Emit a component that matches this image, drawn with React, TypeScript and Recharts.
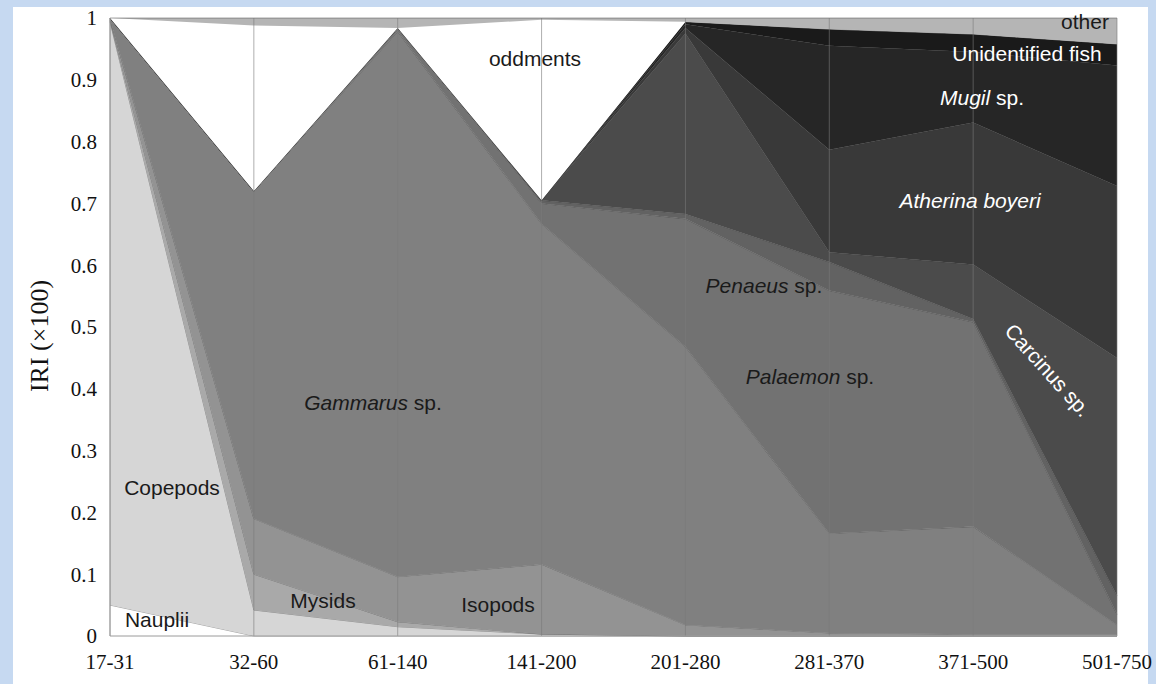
import React from "react";
import { AreaChart, Area, XAxis, YAxis, ReferenceLine } from "recharts";

// size classes (mm)
const sizeClasses = ["17-31", "32-60", "61-140", "141-200", "201-280", "281-370", "371-500", "501-750"];

// IRI share per prey group, stacked bottom to top
const nauplii = [0.05, 0, 0, 0, 0, 0, 0, 0];
const copepods = [0.944, 0.042, 0.015, 0.003, 0, 0, 0, 0];
const mysids = [0.002, 0.058, 0.008, 0, 0, 0, 0, 0];
const isopods = [0.002, 0.09, 0.073, 0.113, 0.018, 0.005, 0.003, 0.003];
const gammarus = [0.002, 0.53, 0.882, 0.551, 0.45, 0.161, 0.174, 0.015];
const palaemon = [0, 0, 0.006, 0.033, 0.207, 0.393, 0.331, 0.017];
const penaeus = [0, 0, 0, 0.005, 0.008, 0.046, 0.005, 0.03];
const carcinus = [0, 0, 0, 0, 0.292, 0.016, 0.088, 0.385];
const atherina = [0, 0, 0, 0, 0.009, 0.166, 0.23, 0.278];
const mugil = [0, 0, 0, 0, 0.006, 0.168, 0.114, 0.195];
const unidentifiedFish = [0, 0, 0, 0, 0.004, 0.027, 0.029, 0.035];
const oddments = [0, 0.268, 0, 0.292, 0, 0, 0, 0];
const other = [0, 0.012, 0.016, 0.003, 0.006, 0.018, 0.026, 0.042];

const yTicks = [0, 0.1, 0.2, 0.3, 0.4, 0.5, 0.6, 0.7, 0.8, 0.9, 1];

const series = [
  { key: "nauplii", values: nauplii, fill: "#ffffff" },
  { key: "copepods", values: copepods, fill: "#d6d6d6" },
  { key: "mysids", values: mysids, fill: "#a9a9a9" },
  { key: "isopods", values: isopods, fill: "#939393" },
  { key: "gammarus", values: gammarus, fill: "#808080" },
  { key: "palaemon", values: palaemon, fill: "#727272" },
  { key: "penaeus", values: penaeus, fill: "#626262" },
  { key: "carcinus", values: carcinus, fill: "#4b4b4b" },
  { key: "atherina", values: atherina, fill: "#393939" },
  { key: "mugil", values: mugil, fill: "#262626" },
  { key: "unidentified", values: unidentifiedFish, fill: "#1a1a1a" },
  { key: "oddments", values: oddments, fill: "#ffffff", stroke: "#ffffff" },
  { key: "other", values: other, fill: "#b5b5b5" },
];

const data = sizeClasses.map((range, i) => {
  const row: Record<string, string | number> = { range };
  series.forEach((s) => {
    row[s.key] = s.values[i];
  });
  return row;
});

type AreaLabel = {
  italic?: string;
  text: string;
  left: number;
  top: number;
  color: string;
  rotate?: number;
};

const areaLabels: AreaLabel[] = [
  { text: "Copepods", left: 172, top: 487, color: "#1a1a1a" },
  { text: "Nauplii", left: 157, top: 619, color: "#1a1a1a" },
  { text: "Mysids", left: 323, top: 600, color: "#1a1a1a" },
  { text: "Isopods", left: 498, top: 604, color: "#1a1a1a" },
  { italic: "Gammarus", text: " sp.", left: 373, top: 402, color: "#1a1a1a" },
  { text: "oddments", left: 535, top: 58, color: "#1a1a1a" },
  { italic: "Penaeus", text: " sp.", left: 764, top: 285, color: "#1a1a1a" },
  { italic: "Palaemon", text: " sp.", left: 810, top: 376, color: "#1a1a1a" },
  { text: "Carcinus sp.", left: 1048, top: 370, color: "#fff", rotate: 48 },
  { italic: "Atherina boyeri", text: "", left: 970, top: 200, color: "#fff" },
  { italic: "Mugil", text: " sp.", left: 982, top: 97, color: "#fff" },
  { text: "Unidentified fish", left: 1027, top: 53, color: "#fff" },
  { text: "other", left: 1085, top: 21, color: "#1a1a1a" },
];

const serif = '"Liberation Serif", "Times New Roman", serif';
const sans = '"Liberation Sans", Arial, Helvetica, sans-serif';

const YTitle = ({ viewBox }: any) => {
  const cx = viewBox.x - 11;
  const cy = viewBox.y + viewBox.height / 2 + 9;
  return (
    <text
      x={cx}
      y={cy}
      transform={`rotate(-90, ${cx}, ${cy})`}
      textAnchor="middle"
      dominantBaseline="central"
      fontFamily={serif}
      fontSize={26}
      fill="#111"
    >
      IRI (×100)
    </text>
  );
};

export default function App() {
  return (
    <div
      style={{
        position: "absolute",
        left: 0,
        top: 0,
        width: 1156,
        height: 684,
        background: "#c6d9f1",
        overflow: "hidden",
      }}
    >
      <div style={{ position: "absolute", left: 13, top: 7, width: 1135, height: 677, background: "#fff" }} />
      <div style={{ position: "absolute", left: 0, top: 0 }}>
        <AreaChart width={1156} height={684} data={data} margin={{ top: 18, right: 39, bottom: 18, left: 50 }}>
          <XAxis
            dataKey="range"
            height={30}
            tickLine={false}
            tickSize={0}
            tickMargin={18}
            axisLine={{ stroke: "#9a9a9a" }}
            tick={{ fontFamily: serif, fontSize: 21, fill: "#111" }}
            interval={0}
          />
          <YAxis
            width={60}
            domain={[0, 1]}
            ticks={yTicks}
            tickLine={false}
            tickSize={0}
            tickMargin={13}
            axisLine={{ stroke: "#9a9a9a" }}
            tick={{ fontFamily: serif, fontSize: 21, fill: "#111" }}
            label={<YTitle />}
          />
          {series.map((s) => (
            <Area
              key={s.key}
              type="linear"
              dataKey={s.key}
              stackId="iri"
              fill={s.fill}
              fillOpacity={1}
              stroke={s.stroke ?? "#333"}
              strokeOpacity={0.55}
              strokeWidth={0.8}
              dot={false}
              activeDot={false}
              isAnimationActive={false}
            />
          ))}
          {sizeClasses.map((c) => (
            <ReferenceLine key={c} x={c} stroke="#7a7a7a" strokeOpacity={0.6} strokeWidth={1} />
          ))}
        </AreaChart>
      </div>
      {areaLabels.map((l, i) => (
        <div
          key={i}
          style={{
            position: "absolute",
            left: l.left,
            top: l.top,
            transform: `translate(-50%, -50%) rotate(${l.rotate ?? 0}deg)`,
            whiteSpace: "nowrap",
            fontFamily: sans,
            fontSize: 21,
            color: l.color,
            lineHeight: 1,
          }}
        >
          {l.italic && <i>{l.italic}</i>}
          {l.text}
        </div>
      ))}
    </div>
  );
}
